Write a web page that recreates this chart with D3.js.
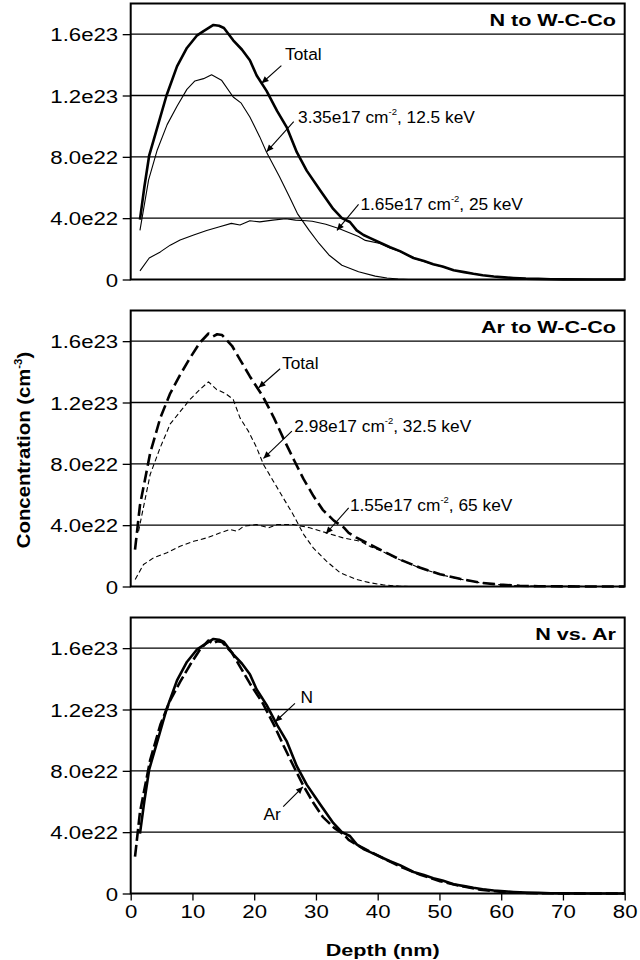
<!DOCTYPE html>
<html><head><meta charset="utf-8">
<script src="https://cdn.jsdelivr.net/npm/d3@7"></script>
<style>body{margin:0;background:#fff} svg{display:block}</style>
</head><body><svg id="c" width="640" height="960"></svg>
<script>
// ---------- data (concentration in units of 1e22 cm^-3, depth in nm) ----------
const depthDomain = [0, 80];
const concDomain = [0, 18];
const yTickValues = [0, 4, 8, 12, 16];
const yTickLabels = ["0", "4.0e22", "8.0e22", "1.2e23", "1.6e23"];
const xTickValues = [0, 10, 20, 30, 40, 50, 60, 70, 80];
const xTickLabels = ["0", "10", "20", "30", "40", "50", "60", "70", "80"];
const panelTitles = ["N to W-C-Co", "Ar to W-C-Co", "N vs. Ar"];

const nTotal = [[1.5,3.9],[2.2,6.0],[3.0,8.1],[4.3,9.9],[5.8,12.0],[7.5,13.9],[9.1,15.1],[10.7,15.9],[11.8,16.2],[13.4,16.6],[14.3,16.55],[15.1,16.4],[16.6,15.6],[18.0,15.0],[19.3,14.3],[20.4,13.3],[22.0,12.3],[23.7,11.0],[25.3,9.9],[26.9,8.3],[28.5,7.1],[30.7,5.8],[32.8,4.6],[34.2,4.0],[35.5,3.75],[36.6,3.2],[37.7,2.9],[38.8,2.7],[40.4,2.4],[42,2.1],[43.6,1.85],[45.8,1.4],[47.5,1.2],[49,1.0],[50.5,0.85],[52.3,0.6],[54,0.48],[55.5,0.37],[57,0.28],[58.8,0.2],[60.5,0.14],[62,0.1],[64,0.06],[66,0.04],[68,0.02],[70,0.01],[75,0],[80,0]];
const n125keV = [[1.5,3.2],[2.9,6.5],[4.3,8.45],[5.9,10.1],[7.5,11.3],[9.1,12.4],[10.4,12.95],[11.8,13.1],[13.1,13.35],[14.7,13.0],[16.6,11.9],[17.9,11.5],[19.3,10.6],[20.9,9.3],[22.0,8.3],[24.1,6.7],[25.7,5.4],[27.0,4.3],[28.9,3.2],[30.5,2.35],[32.1,1.6],[34.2,0.93],[36.9,0.5],[39.6,0.22],[41.5,0.1],[43.3,0.03],[45,0]];
const n25keV = [[1.5,0.56],[3.0,1.4],[4.8,1.8],[6.4,2.24],[8.0,2.57],[10.2,2.9],[12.3,3.2],[14.4,3.44],[16.3,3.66],[17.7,3.55],[19.3,3.83],[20.9,3.76],[23.0,3.87],[25.1,3.96],[26.7,3.87],[28.4,3.83],[29.4,3.8],[31.6,3.6],[33.7,3.33],[35.3,3.07],[36.9,2.8],[38,2.55],[40.4,2.35],[42,2.05],[43.6,1.82],[45.8,1.38],[47.5,1.18],[49,0.98],[50.5,0.84],[52.3,0.6],[54,0.48],[55.5,0.37],[57,0.28],[58.8,0.2],[60.5,0.14],[62,0.1],[64,0.06],[66,0.04],[68,0.02],[70,0.01],[75,0],[80,0]];
const arTotal = [[0.7,2.4],[1.5,5.3],[3.15,8.7],[4.8,11.0],[6.4,12.6],[8.0,13.8],[9.6,14.9],[11.2,15.9],[12.6,16.5],[13.3,16.3],[14.0,16.45],[14.8,16.4],[16.4,15.7],[17.7,14.8],[19.3,13.7],[21.4,12.4],[23.2,11.0],[24.8,9.6],[26.5,8.2],[28.0,7.0],[29.6,5.9],[31.1,5.0],[32.9,4.3],[34.5,3.85],[35.3,3.5],[36.5,3.2],[37.7,2.95],[40.4,2.4],[43.6,1.76],[46.9,1.22],[50.1,0.8],[53.3,0.5],[56.6,0.25],[59.8,0.12],[63,0.05],[66,0.02],[70,0.01],[75,0],[80,0]];
const ar325keV = [[1.27,3.6],[3.15,7.3],[4.77,9.05],[6.4,10.6],[8.0,11.4],[9.6,12.2],[11.2,12.85],[12.6,13.35],[13.9,12.85],[15.3,12.6],[16.6,12.2],[17.7,11.0],[19.1,10.1],[20.4,9.05],[21.5,7.96],[23.1,6.87],[24.7,5.78],[26.3,4.7],[28.0,3.4],[29.6,2.5],[31.7,1.65],[33.9,0.9],[36.6,0.46],[38.8,0.24],[41,0.1],[43.6,0.02],[45,0]];
const ar65keV = [[0.73,0.46],[2.07,1.43],[3.7,1.87],[5.86,2.2],[8.0,2.63],[10.2,2.95],[12.3,3.17],[14.5,3.5],[16.1,3.72],[17.2,3.6],[18.3,3.93],[20.4,4.04],[22.3,3.83],[23.7,4.04],[26.3,4.04],[29.0,3.83],[31.7,3.5],[34.4,3.17],[37.2,2.95],[38.8,2.6],[40.4,2.35],[43.6,1.74],[46.9,1.2],[50.1,0.78],[53.3,0.48],[56.6,0.24],[59.8,0.12],[63,0.05],[66,0.02],[70,0.01],[75,0],[80,0]];

// ---------- layout ----------
const FONT = "'Liberation Sans', Arial, sans-serif";
const plotLeft = 130.7, plotRight = 624.7;
const panelTops = [3.5, 310.5, 617.5];
const panelH = 276;
const TEXT_SX = 1.2, TITLE_SX = 1.27, ANN_SX = 1.05, YTITLE_SX = 1.13;

const series = [
  [ {data:nTotal, w:2.6, dash:null}, {data:n125keV, w:1.1, dash:null}, {data:n25keV, w:1.1, dash:null} ],
  [ {data:arTotal, w:2.6, dash:"12,5"}, {data:ar325keV, w:1.1, dash:"5,3"}, {data:ar65keV, w:1.1, dash:"5,3"} ],
  [ {data:nTotal, w:2.6, dash:null}, {data:arTotal, w:2.6, dash:"12,4"} ]
];

// annotations: text, sup, tail [d,c], tip [d,c], text position [d,c]
const annotations = [
  [ {t:"Total", sup:null, after:"", tail:[24.4,13.95], tip:[21.2,12.8], pos:[25.0,14.3]},
    {t:"3.35e17 cm", sup:"-2", after:", 12.5 keV", tail:[26.4,10.3], tip:[22.0,8.33], pos:[27.1,10.2]},
    {t:"1.65e17 cm", sup:"-2", after:", 25 keV", tail:[36.9,4.9], tip:[33.4,3.2], pos:[37.2,4.55]} ],
  [ {t:"Total", sup:null, after:"", tail:[24.2,14.2], tip:[20.7,12.96], pos:[24.5,14.2]},
    {t:"2.98e17 cm", sup:"-2", after:", 32.5 keV", tail:[26.1,10.13], tip:[21.5,8.35], pos:[26.5,10.05]},
    {t:"1.55e17 cm", sup:"-2", after:", 65 keV", tail:[35.3,5.13], tip:[31.6,3.44], pos:[35.5,4.9]} ],
  [ {t:"N", sup:null, after:"", tail:[26.6,12.4], tip:[23.4,11.2], pos:[27.5,12.4]},
    {t:"Ar", sup:null, after:"", tail:[24.7,5.66], tip:[27.9,6.96], pos:[21.5,4.8]} ]
];

const svg = d3.select("#c");
const defs = svg.append("defs");
defs.append("marker").attr("id","arr").attr("viewBox","0 0 10 10")
  .attr("refX",10).attr("refY",5).attr("markerWidth",8).attr("markerHeight",7)
  .attr("markerUnits","userSpaceOnUse").attr("orient","auto")
  .append("path").attr("d","M0,0.5L10,5L0,9.5z").attr("fill","#000");

const x = d3.scaleLinear().domain(depthDomain).range([plotLeft, plotRight]);

panelTops.forEach((top, i) => {
  const y = d3.scaleLinear().domain(concDomain).range([top + panelH, top]);
  const g = svg.append("g");

  // gridlines
  g.selectAll("line.grid").data(yTickValues.filter(v => v > 0)).join("line")
    .attr("x1", plotLeft).attr("x2", plotRight)
    .attr("y1", d => y(d)).attr("y2", d => y(d))
    .attr("stroke", "#000").attr("stroke-width", 1.4);

  // y axis
  const ya = g.append("g").attr("transform", `translate(${plotLeft},0)`)
    .call(d3.axisLeft(y).tickValues(yTickValues).tickFormat((d, k) => yTickLabels[k]).tickSize(8).tickSizeOuter(0));
  ya.select(".domain").remove();
  ya.selectAll(".tick line").attr("stroke", "#000").attr("stroke-width", 1.3);
  ya.selectAll(".tick text").attr("font-family", FONT).attr("font-size", 18.5).attr("fill", "#000")
    .attr("x", -12.5 / TEXT_SX).attr("dy", "0.36em").attr("transform", `scale(${TEXT_SX},1)`);

  // x axis (bottom panel only)
  if (i === 2) {
    const xa = g.append("g").attr("transform", `translate(0,${top + panelH})`)
      .call(d3.axisBottom(x).tickValues(xTickValues).tickFormat((d, k) => xTickLabels[k]).tickSize(7).tickSizeOuter(0));
    xa.select(".domain").remove();
    xa.selectAll(".tick line").attr("stroke", "#000").attr("stroke-width", 1.3);
    xa.selectAll(".tick text").attr("font-family", FONT).attr("font-size", 18.5).attr("fill", "#000")
      .attr("y", 0).attr("dy", 0)
      .attr("transform", `translate(0,24) scale(${TEXT_SX},1)`);
  }

  // lines
  const line = d3.line().x(d => x(d[0])).y(d => y(d[1]));
  series[i].forEach(s => {
    g.append("path").datum(s.data).attr("d", line)
      .attr("fill", "none").attr("stroke", "#000").attr("stroke-width", s.w)
      .attr("stroke-linejoin", "round")
      .attr("stroke-dasharray", s.dash);
  });

  // frame
  g.append("rect").attr("x", plotLeft).attr("y", top).attr("width", plotRight - plotLeft).attr("height", panelH)
    .attr("fill", "none").attr("stroke", "#000").attr("stroke-width", 2);

  // title
  g.append("text").attr("transform", `translate(616,${top + 22.5}) scale(${TITLE_SX},1)`)
    .attr("text-anchor", "end").attr("font-family", FONT).attr("font-weight", "bold")
    .attr("font-size", 17).text(panelTitles[i]);

  // annotations
  annotations[i].forEach(a => {
    g.append("line").attr("x1", x(a.tail[0])).attr("y1", y(a.tail[1]))
      .attr("x2", x(a.tip[0])).attr("y2", y(a.tip[1]))
      .attr("stroke", "#000").attr("stroke-width", 1.1).attr("marker-end", "url(#arr)");
    const t = g.append("text").attr("transform", `translate(${x(a.pos[0])},${y(a.pos[1])}) scale(${ANN_SX},1)`)
      .attr("font-family", FONT).attr("font-size", 16.5).attr("fill", "#000");
    t.append("tspan").text(a.t);
    if (a.sup) {
      t.append("tspan").attr("font-size", 9).attr("dy", -8).text(a.sup);
      t.append("tspan").attr("dy", 8).text(a.after);
    }
  });
});

// axis titles
const yt = svg.append("text").attr("transform", `translate(30,450) rotate(-90) scale(${YTITLE_SX},1)`)
  .attr("text-anchor", "middle").attr("font-family", FONT).attr("font-weight", "bold").attr("font-size", 18);
yt.append("tspan").text("Concentration (cm");
yt.append("tspan").attr("font-size", 10).attr("dy", -8).text("-3");
yt.append("tspan").attr("dy", 8).text(")");

svg.append("text").attr("transform", `translate(${(plotLeft + plotRight) / 2 + 5},956) scale(${TITLE_SX},1)`)
  .attr("text-anchor", "middle").attr("font-family", FONT).attr("font-weight", "bold").attr("font-size", 17)
  .text("Depth (nm)");
</script></body></html>
